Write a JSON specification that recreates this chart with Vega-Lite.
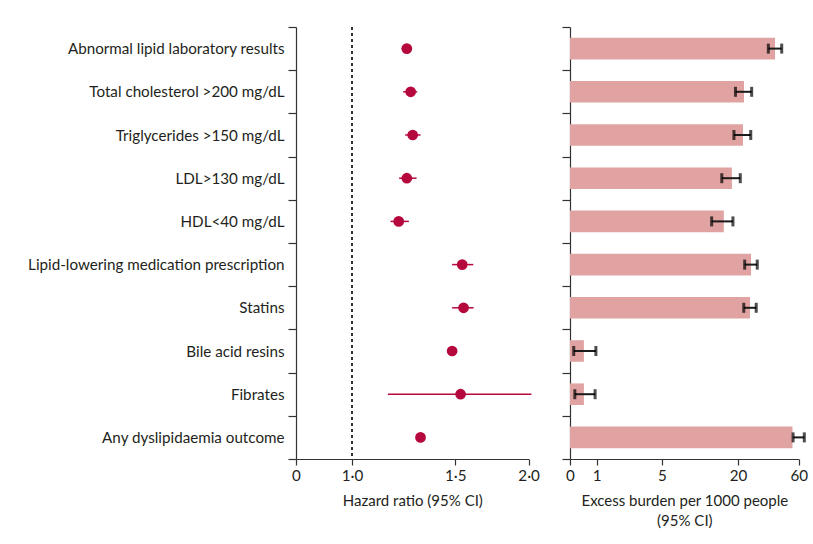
{
  "$schema": "https://vega.github.io/schema/vega-lite/v6.json",
  "padding": {"left": 27, "top": 20, "right": 5, "bottom": 5},
  "config": {
    "view": {"stroke": null},
    "font": "Lato",
    "axis": {"labelFont": "Lato", "titleFont": "Lato", "labelFontSize": 15.2, "titleFontSize": 15, "titleFontWeight": "normal", "labelColor": "#231f20", "titleColor": "#231f20", "domainColor": "#333333", "tickColor": "#333333", "domainWidth": 1.2, "tickWidth": 1.2, "grid": false, "titleLineHeight": 20, "labelFlush": false},
    "concat": {"spacing": 21}
  },
  "data": {"values": [
    {"name": "Abnormal lipid laboratory results", "hr": 1.241, "hr_lo": 1.215, "hr_hi": 1.265, "eb": 44.4, "eb_lo": 40.0, "eb_hi": 48.8},
    {"name": "Total cholesterol >200 mg/dL", "hr": 1.26, "hr_lo": 1.223, "hr_hi": 1.292, "eb": 23.95, "eb_lo": 19.5, "eb_hi": 29.0},
    {"name": "Triglycerides >150 mg/dL", "hr": 1.27, "hr_lo": 1.233, "hr_hi": 1.309, "eb": 23.3, "eb_lo": 19.2, "eb_hi": 28.4},
    {"name": "LDL>130 mg/dL", "hr": 1.241, "hr_lo": 1.203, "hr_hi": 1.289, "eb": 18.8, "eb_lo": 16.8, "eb_hi": 21.5},
    {"name": "HDL<40 mg/dL", "hr": 1.201, "hr_lo": 1.164, "hr_hi": 1.251, "eb": 17.2, "eb_lo": 14.8, "eb_hi": 19.0},
    {"name": "Lipid-lowering medication prescription", "hr": 1.542, "hr_lo": 1.482, "hr_hi": 1.61, "eb": 28.6, "eb_lo": 24.4, "eb_hi": 32.7},
    {"name": "Statins", "hr": 1.55, "hr_lo": 1.482, "hr_hi": 1.612, "eb": 27.9, "eb_lo": 23.8, "eb_hi": 32.0},
    {"name": "Bile acid resins", "hr": 1.482, "hr_lo": 1.46, "hr_hi": 1.505, "eb": 0.52, "eb_lo": 0.14, "eb_hi": 0.97},
    {"name": "Fibrates", "hr": 1.532, "hr_lo": 1.152, "hr_hi": 2.021, "eb": 0.52, "eb_lo": 0.18, "eb_hi": 0.94},
    {"name": "Any dyslipidaemia outcome", "hr": 1.309, "hr_lo": 1.29, "hr_hi": 1.33, "eb": 55.9, "eb_lo": 56.3, "eb_hi": 63.7}
  ]},
  "hconcat": [
    {
      "width": 233,
      "height": 432,
      "layer": [
        {
          "mark": {"type": "rule", "strokeDash": [3, 3], "color": "#333333", "strokeWidth": 1.3},
          "encoding": {"x": {"datum": 1, "type": "quantitative"}}
        },
        {
          "mark": {"type": "rule", "color": "#b5083c", "strokeWidth": 1.5},
          "encoding": {
            "y": {"field": "name", "type": "nominal", "sort": null, "scale": {"paddingInner": 0, "paddingOuter": 0}, "axis": {"title": null, "tickBand": "extent", "tickSize": 8, "labelPadding": 4, "labelLimit": 400}},
            "x": {"field": "hr_lo", "type": "quantitative", "scale": {"domain": [0, 1, 1.1, 1.2, 1.3, 1.4, 1.5, 1.6, 1.8, 2], "range": [0, 56, 80.3, 102.5, 122.8, 141.7, 159.3, 175.8, 205.8, 232.6], "nice": false, "zero": false}, "axis": {"title": "Hazard ratio (95% CI)", "values": [0, 1, 1.5, 2], "tickSize": 6, "labelPadding": 3, "titlePadding": 10, "labelExpr": "datum.value == 0 ? '0' : replace(format(datum.value, '.1f'), '.', '·')"}},
            "x2": {"field": "hr_hi"}
          }
        },
        {
          "mark": {"type": "circle", "color": "#b5083c", "opacity": 1, "size": 115},
          "encoding": {
            "y": {"field": "name", "type": "nominal", "sort": null},
            "x": {"field": "hr", "type": "quantitative"}
          }
        }
      ]
    },
    {
      "width": 229,
      "height": 432,
      "layer": [
        {
          "mark": {"type": "bar", "color": "#e0a3a2", "height": {"band": 0.5}},
          "encoding": {
            "y": {"field": "name", "type": "nominal", "sort": null, "scale": {"paddingInner": 0, "paddingOuter": 0}, "axis": {"title": null, "labels": false, "tickBand": "extent", "tickSize": 8}},
            "x": {"field": "eb", "type": "quantitative", "scale": {"domain": [0, 1, 5, 20, 60], "range": [0, 26.7, 92, 168, 228.7], "nice": false, "zero": false}, "axis": {"title": ["Excess burden per 1000 people", "(95% CI)"], "values": [0, 1, 5, 20, 60], "tickSize": 6, "labelPadding": 3, "titlePadding": 10}}
          }
        },
        {
          "mark": {"type": "rule", "color": "#1a1a1a", "strokeWidth": 2},
          "encoding": {
            "y": {"field": "name", "type": "nominal", "sort": null},
            "x": {"field": "eb_lo", "type": "quantitative"},
            "x2": {"field": "eb_hi"}
          }
        },
        {
          "mark": {"type": "tick", "color": "#000000", "thickness": 3, "size": 10},
          "encoding": {
            "y": {"field": "name", "type": "nominal", "sort": null},
            "x": {"field": "eb_lo", "type": "quantitative"}
          }
        },
        {
          "mark": {"type": "tick", "color": "#000000", "thickness": 3, "size": 10},
          "encoding": {
            "y": {"field": "name", "type": "nominal", "sort": null},
            "x": {"field": "eb_hi", "type": "quantitative"}
          }
        }
      ]
    }
  ]
}
